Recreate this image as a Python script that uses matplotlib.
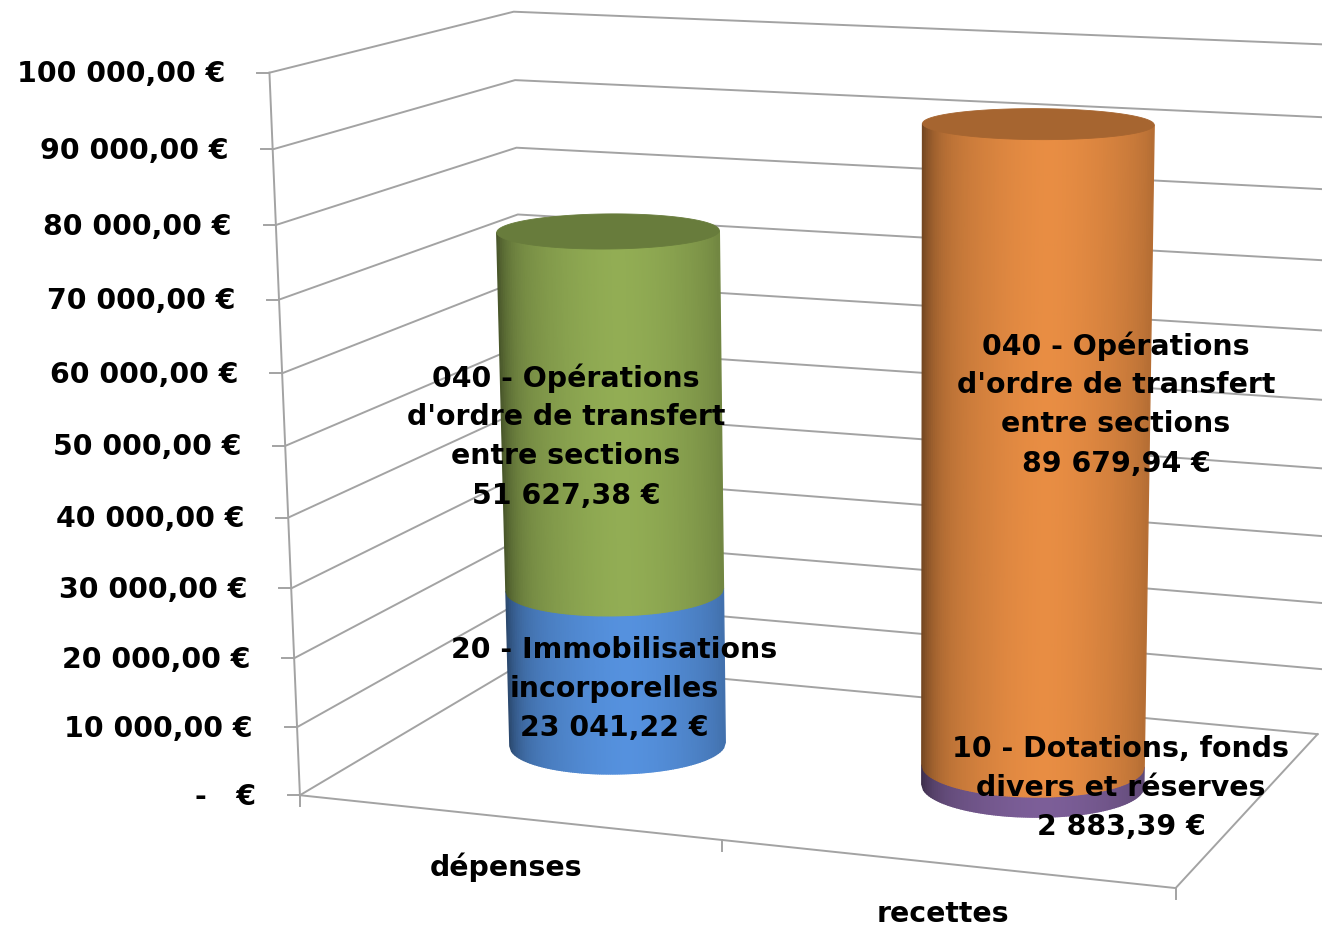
import numpy as np
import matplotlib
matplotlib.use("Agg")
import matplotlib.pyplot as plt

# Data
categories = ["dépenses", "recettes"]
axis_values = [0, 10000, 20000, 30000, 40000, 50000, 60000, 70000, 80000, 90000, 100000]
axis_labels = ["-   €", "10 000,00 €", "20 000,00 €", "30 000,00 €", "40 000,00 €", "50 000,00 €",
               "60 000,00 €", "70 000,00 €", "80 000,00 €", "90 000,00 €", "100 000,00 €"]
depenses_values = [23041.22, 51627.38]
recettes_values = [2883.39, 89679.94]
depenses_labels = ["20 - Immobilisations\nincorporelles\n23 041,22 €",
                   "040 - Opérations\nd'ordre de transfert\nentre sections\n51 627,38 €"]
recettes_labels = ["10 - Dotations, fonds\ndivers et réserves\n2 883,39 €",
                   "040 - Opérations\nd'ordre de transfert\nentre sections\n89 679,94 €"]
depenses_colors = [(85, 145, 222), (146, 173, 84)]
recettes_colors = [(124, 94, 152), (232, 141, 67)]

GRID = "#a3a3a3"
FS = 20.4
YMAX = 100000.0

# world corners (category, depth, value) -> pixel, used to fit the 3d camera
world = np.array([[0, 0, 0], [0, 0, 1], [0, 1, 1], [0, 1, 0], [2, 0, 0], [2, 1, 0], [2, 1, 1]], float)
pixel = np.array([[300, 795], [270, 72], [513, 12], [527, 661], [1175, 889], [1318, 733], [1355, 46]], float)
# the cylinders lean a little less than the walls on the right side
pixel_cyl = np.array([[300, 795], [270, 72], [513, 12], [527, 661], [1175, 889], [1318, 733], [1336, 46]], float)


def fit_camera(w, p):
    rows = []
    for (x, y, z), (u, v) in zip(w, p):
        rows.append([x, y, z, 1, 0, 0, 0, 0, -u * x, -u * y, -u * z, -u])
        rows.append([0, 0, 0, 0, x, y, z, 1, -v * x, -v * y, -v * z, -v])
    return np.linalg.svd(np.array(rows))[2][-1].reshape(3, 4)


P = fit_camera(world, pixel)
P_cyl = fit_camera(world, pixel_cyl)


def project(x, y, value, cam=P):
    x, y, value = np.broadcast_arrays(x, y, np.asarray(value, float) / YMAX)
    h = cam @ np.vstack([x.ravel(), y.ravel(), value.ravel(), np.ones(x.size)])
    return h[0] / h[2], h[1] / h[2]


def rgb(c, k=1.0):
    return tuple(min(1, v * k / 255) for v in c)


def shade(s):
    # dark at both edges of the cylinder, bright a bit right of the middle
    d = np.abs(s - 0.55) / 0.55
    return 1.0 - 0.26 * d ** 1.6 - 0.26 * d ** 10


def ring(cx, value, t):
    return project(cx + RX * np.cos(t), 0.5 + RY * np.sin(t), value, P_cyl)


RX = 0.247
RY = 0.20
theta = np.linspace(0, 2 * np.pi, 1441)


def draw_segment(cx, v0, v1, color, zorder):
    xm, _ = ring(cx, (v0 + v1) / 2, theta)
    i0, i1 = np.argmin(xm), np.argmax(xm)
    t0, t1 = theta[i0], theta[i1]
    if t1 < t0:
        t1 += 2 * np.pi
    # strips evenly wide on screen, so the gradient stays smooth near the edges
    t_fine = np.linspace(t0, t1, 800)
    x_fine, _ = ring(cx, (v0 + v1) / 2, t_fine)
    s_fine = (x_fine - x_fine.min()) / (x_fine.max() - x_fine.min())
    s_edges = np.linspace(0, 1, 121)
    t = np.interp(s_edges, s_fine, t_fine)
    xb, yb = ring(cx, v0, t)
    xt, yt = ring(cx, v1, t)
    for j in range(len(t) - 1):
        c = rgb(color, shade((s_edges[j] + s_edges[j + 1]) / 2))
        ax.fill([xb[j], xb[j + 1], xt[j + 1], xt[j]], [yb[j], yb[j + 1], yt[j + 1], yt[j]],
                color=c, lw=1.0, zorder=zorder)


fig = plt.figure(figsize=(13.22, 9.26), dpi=100)
ax = fig.add_axes([0, 0, 1, 1])
ax.set_xlim(0, 1322)
ax.set_ylim(926, 0)
ax.axis("off")

# walls and floor
for v, lab in zip(axis_values, axis_labels):
    xs, ys = project(np.array([0, 0, 2]), np.array([0, 1, 1]), v)
    ax.plot(xs, ys, color=GRID, lw=1.4, zorder=1)
    ax.plot([xs[0] - 12, xs[0]], [ys[0], ys[0]], color=GRID, lw=1.4, zorder=1)
    ax.text(xs[0] - 44, ys[0] + 1.5, lab, ha="right", va="center", fontsize=FS,
            fontweight="bold", color="black", zorder=5)

xs, ys = project(np.array([0, 0]), np.array([0, 0]), np.array([0, YMAX]))
ax.plot(xs, ys, color=GRID, lw=1.4, zorder=1)
xs, ys = project(np.array([0, 2, 2]), np.array([0, 0, 1]), 0)
ax.plot(xs, ys, color=GRID, lw=1.4, zorder=1)
for cx in [0, 1, 2]:
    xs, ys = project(cx, 0, 0)
    ax.plot([xs[0], xs[0]], [ys[0], ys[0] + 11], color=GRID, lw=1.4, zorder=1)

# cylinders
for cx, vals, cols in [(0.5, depenses_values, depenses_colors),
                       (1.5, recettes_values, recettes_colors)]:
    base = 0
    for i, (v, c) in enumerate(zip(vals, cols)):
        draw_segment(cx, base, base + v, c, 2 + i * 0.1)
        base += v
    xc, yc = ring(cx, base, theta)
    ax.fill(xc, yc, color=rgb(cols[-1], 0.715), lw=0.6, zorder=3)


def label(txt, x, y0):
    for i, line in enumerate(txt.split("\n")):
        ax.text(x, y0 + i * 39.2, line, ha="center", va="center", fontsize=FS,
                fontweight="bold", color="black", zorder=6)


label(depenses_labels[1], 566, 378)
label(depenses_labels[0], 614, 650)
label(recettes_labels[1], 1116, 346)
label(recettes_labels[0], 1121, 749)

ax.text(506, 867, categories[0], ha="center", va="center", fontsize=FS, fontweight="bold", zorder=6)
ax.text(943, 914, categories[1], ha="center", va="center", fontsize=FS, fontweight="bold", zorder=6)

fig.savefig("out.png", dpi=100, facecolor="white")
